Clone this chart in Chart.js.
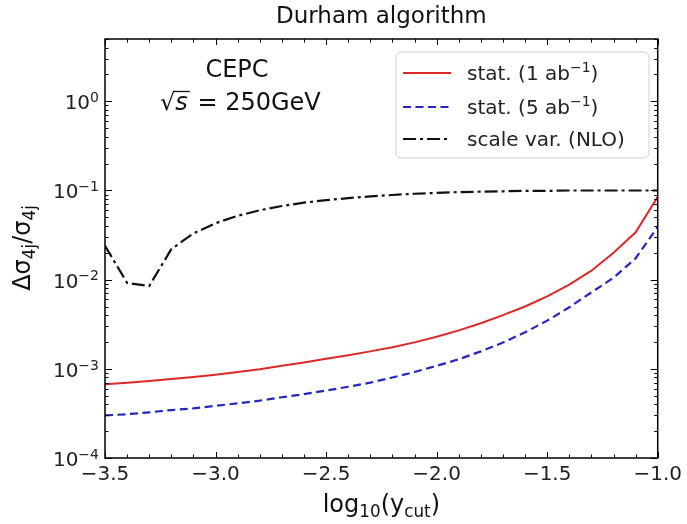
<!DOCTYPE html>
<html>
<head>
<meta charset="utf-8">
<script src="https://cdn.jsdelivr.net/npm/chart.js@4.4.1/dist/chart.umd.min.js"></script>
<style>
html, body { margin: 0; padding: 0; background: #fff; }
#wrap { width: 687px; height: 524px; }
</style>
</head>
<body>
<div id="wrap"><canvas id="myChart" width="687" height="524"></canvas></div>
<script>
// log10(ycut) values
const yCut = [-3.5, -3.4, -3.3, -3.2, -3.1, -3.0, -2.9, -2.8, -2.7, -2.6, -2.5, -2.4, -2.3,
              -2.2, -2.1, -2.0, -1.9, -1.8, -1.7, -1.6, -1.5, -1.4, -1.3, -1.2, -1.1, -1.0];
// stat. (1 ab^-1)
const stat1 = [6.7e-4, 7.0e-4, 7.3e-4, 7.7e-4, 8.1e-4, 8.6e-4, 9.2e-4, 9.9e-4, 1.08e-3, 1.18e-3,
               1.30e-3, 1.42e-3, 1.57e-3, 1.75e-3, 1.98e-3, 2.29e-3, 2.70e-3, 3.25e-3, 4.0e-3, 5.0e-3,
               6.5e-3, 8.8e-3, 0.0126, 0.020, 0.034, 0.085];
// stat. (5 ab^-1)
const stat5 = [3.0e-4, 3.1e-4, 3.25e-4, 3.45e-4, 3.6e-4, 3.85e-4, 4.1e-4, 4.4e-4, 4.8e-4, 5.2e-4,
               5.7e-4, 6.3e-4, 7.0e-4, 8.0e-4, 9.2e-4, 1.08e-3, 1.28e-3, 1.57e-3, 1.97e-3, 2.57e-3,
               3.47e-3, 4.9e-3, 7.2e-3, 0.0105, 0.0174, 0.039];
// scale var. (NLO)
const scaleVar = [0.024, 0.0092, 0.0085, 0.022, 0.033, 0.043, 0.052, 0.060, 0.067, 0.073,
                  0.078, 0.082, 0.086, 0.089, 0.092, 0.094, 0.096, 0.097, 0.098, 0.099,
                  0.099, 0.1, 0.1, 0.1, 0.1, 0.1];

const seriesLabels = ['stat. (1 ab⁻¹)', 'stat. (5 ab⁻¹)', 'scale var. (NLO)'];
const xTicks = [-3.5, -3.0, -2.5, -2.0, -1.5, -1.0];
const yTicks = [1e-4, 1e-3, 1e-2, 1e-1, 1];

const FONT = "'DejaVu Sans', sans-serif";

function toPoints(ys) {
    return yCut.map((x, i) => ({ x: x, y: ys[i] }));
}

// draws text made of parts [text, mode], mode: '' | 'sub' | 'sup' | 'it'
function drawRich(ctx, parts, x, y, size, align, supRise) {
    const rise = supRise || 0.4;
    const fontFor = mode => {
        if (mode === 'sub' || mode === 'sup') return (size * 0.7) + 'px ' + FONT;
        if (mode === 'it') return 'italic ' + size + 'px ' + FONT;
        return size + 'px ' + FONT;
    };
    let total = 0;
    parts.forEach(p => { ctx.font = fontFor(p[1]); total += ctx.measureText(p[0]).width; });
    let cx = align === 'center' ? x - total / 2 : (align === 'right' ? x - total : x);
    ctx.textAlign = 'left';
    ctx.textBaseline = 'alphabetic';
    parts.forEach(p => {
        ctx.font = fontFor(p[1]);
        let dy = 0;
        if (p[1] === 'sub') dy = size * 0.22;
        if (p[1] === 'sup') dy = -size * rise;
        ctx.fillText(p[0], cx, y + dy);
        cx += ctx.measureText(p[0]).width;
    });
    return total;
}

const extras = {
    id: 'extras',
    afterDraw(chart) {
        const ctx = chart.ctx;
        const a = chart.chartArea;
        const xs = chart.scales.x, ys = chart.scales.y;
        ctx.save();
        ctx.fillStyle = '#000';
        ctx.strokeStyle = '#000';

        // frame
        ctx.lineWidth = 1.5;
        ctx.strokeRect(a.left, a.top, a.right - a.left, a.bottom - a.top);

        // inward ticks on all sides
        ctx.lineWidth = 1;
        const tick = (px, len, vertical) => {
            ctx.beginPath();
            if (vertical) {
                ctx.moveTo(px, a.bottom); ctx.lineTo(px, a.bottom - len);
                ctx.moveTo(px, a.top); ctx.lineTo(px, a.top + len);
            } else {
                ctx.moveTo(a.left, px); ctx.lineTo(a.left + len, px);
                ctx.moveTo(a.right, px); ctx.lineTo(a.right - len, px);
            }
            ctx.stroke();
        };
        for (let i = -35; i <= -10; i++) {
            const px = Math.round(xs.getPixelForValue(i / 10)) + 0.5;
            tick(px, i % 5 === 0 ? 6 : 3.5, true);
        }
        for (let k = -4; k <= 0; k++) {
            for (let m = 1; m <= 9; m++) {
                const v = m * Math.pow(10, k);
                if (v > ys.max) continue;
                const py = Math.round(ys.getPixelForValue(v)) + 0.5;
                tick(py, m === 1 ? 7 : 3.5, false);
            }
        }

        // y tick labels, 10 with raised exponent
        ctx.fillStyle = '#222';
        yTicks.forEach(v => {
            const py = ys.getPixelForValue(v);
            const e = String(Math.round(Math.log10(v))).replace('-', '\u2212');
            drawRich(ctx, [['10', ''], [e, 'sup']], a.left - 6, py + 8, 20, 'right', 0.36);
        });

        // title and axis titles
        ctx.fillStyle = '#111';
        drawRich(ctx, [['Durham algorithm', '']], (a.left + a.right) / 2, 23, 23, 'center');
        drawRich(ctx, [['log', ''], ['10', 'sub'], ['(y', ''], ['cut', 'sub'], [')', '']],
            (a.left + a.right) / 2, 512, 24, 'center');
        ctx.save();
        ctx.translate(30, 248);
        ctx.rotate(-Math.PI / 2);
        drawRich(ctx, [['Δσ', ''], ['4j', 'sub'], ['/σ', ''], ['4j', 'sub']], 0, 0, 24, 'center');
        ctx.restore();

        // CEPC annotation
        drawRich(ctx, [['CEPC', '']], 237, 77, 24, 'center');
        ctx.font = '24px ' + FONT;
        const rootW = ctx.measureText('√').width;
        ctx.fillText('√', 160, 110);
        ctx.font = 'italic 24px ' + FONT;
        const sW = ctx.measureText('s').width;
        ctx.fillText('s', 160 + rootW, 110);
        ctx.strokeStyle = '#111';
        ctx.lineWidth = 1.3;
        ctx.beginPath();
        ctx.moveTo(160 + rootW - 1, 91.5); ctx.lineTo(160 + rootW + sW + 2, 91.5);
        ctx.stroke();
        drawRich(ctx, [[' = 250GeV', '']], 160 + rootW + sW + 2, 110, 24, 'left');

        // legend
        const lx = 396, ly = 52, lw = 253, lh = 106, r = 5;
        ctx.beginPath();
        ctx.moveTo(lx + r, ly);
        ctx.arcTo(lx + lw, ly, lx + lw, ly + lh, r);
        ctx.arcTo(lx + lw, ly + lh, lx, ly + lh, r);
        ctx.arcTo(lx, ly + lh, lx, ly, r);
        ctx.arcTo(lx, ly, lx + lw, ly, r);
        ctx.closePath();
        ctx.fillStyle = 'rgba(255,255,255,0.85)';
        ctx.fill();
        ctx.strokeStyle = '#d0d0d0';
        ctx.lineWidth = 1;
        ctx.stroke();
        const rows = [73, 107, 139];
        const legendParts = [
            [['stat. (1 ab', ''], ['−1', 'sup'], [')', '']],
            [['stat. (5 ab', ''], ['−1', 'sup'], [')', '']],
            [['scale var. (NLO)', '']]
        ];
        chart.data.datasets.forEach((ds, i) => {
            ctx.save();
            ctx.strokeStyle = ds.borderColor;
            ctx.lineWidth = ds.borderWidth;
            ctx.setLineDash(ds.borderDash || []);
            ctx.beginPath();
            ctx.moveTo(403, rows[i]); ctx.lineTo(451, rows[i]);
            ctx.stroke();
            ctx.restore();
            ctx.fillStyle = '#222';
            drawRich(ctx, legendParts[i], 467, rows[i] + 7, 20, 'left');
        });
        ctx.restore();
    }
};

const ctx = document.getElementById('myChart').getContext('2d');
const myChart = new Chart(ctx, {
    type: 'line',
    data: {
        datasets: [{
            label: seriesLabels[0],
            data: toPoints(stat1),
            borderColor: 'rgb(222, 40, 40)',
            borderWidth: 2,
        }, {
            label: seriesLabels[1],
            data: toPoints(stat5),
            borderColor: 'rgb(38, 38, 190)',
            borderWidth: 2.2,
            borderDash: [8, 4.5],
        }, {
            label: seriesLabels[2],
            data: toPoints(scaleVar),
            borderColor: '#111',
            borderWidth: 2.2,
            borderDash: [13, 4, 3, 4],
        }]
    },
    options: {
        responsive: false,
        animation: false,
        devicePixelRatio: 1,
        layout: { padding: { top: 39, right: 27, left: 0, bottom: 0 } },
        elements: { point: { radius: 0 }, line: { tension: 0, fill: false } },
        plugins: { legend: { display: false }, title: { display: false }, tooltip: { enabled: false } },
        scales: {
            x: {
                type: 'linear',
                min: -3.5,
                max: -1.0,
                afterBuildTicks: s => { s.ticks = xTicks.map(v => ({ value: v })); },
                afterFit: s => { s.height = 66; },
                grid: { display: false, drawTicks: false },
                border: { display: false },
                ticks: {
                    autoSkip: false,
                    maxRotation: 0,
                    padding: 5,
                    color: '#222',
                    font: { size: 20, family: FONT },
                    callback: v => v.toFixed(1).replace('-', '\u2212'),
                },
            },
            y: {
                type: 'logarithmic',
                min: 1e-4,
                max: 5,
                afterBuildTicks: s => { s.ticks = yTicks.map(v => ({ value: v })); },
                afterFit: s => { s.width = 105; },
                grid: { display: false, drawTicks: false },
                border: { display: false },
                ticks: { display: false, autoSkip: false },
            },
        },
    },
    plugins: [extras],
});
</script>
</body>
</html>
